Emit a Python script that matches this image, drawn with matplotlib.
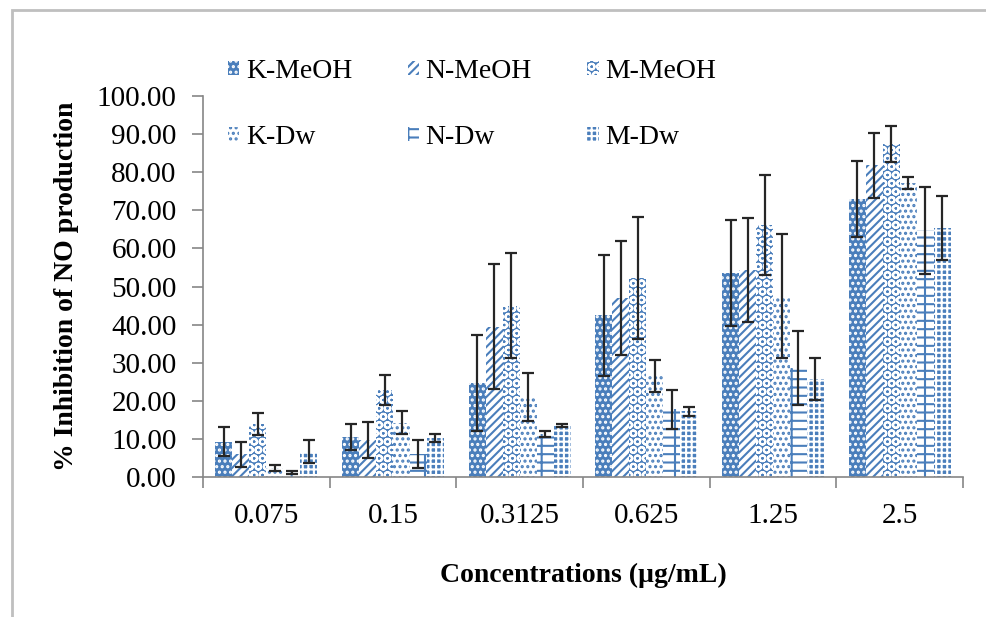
import numpy as np
import matplotlib
matplotlib.use('Agg')
import matplotlib.pyplot as plt
from matplotlib.patches import Rectangle

plt.rcParams['font.family'] = ['Liberation Serif', 'DejaVu Serif']
plt.rcParams['hatch.linewidth'] = 1.5

# data (% inhibition, mean and error)
categories = ['0.075', '0.15', '0.3125', '0.625', '1.25', '2.5']
series_names = ['K-MeOH', 'N-MeOH', 'M-MeOH', 'K-Dw', 'N-Dw', 'M-Dw']

k_meoh = [9.3, 10.6, 24.6, 42.4, 53.5, 73.0]
k_meoh_err = [3.7, 3.4, 12.6, 16.0, 13.9, 9.9]
n_meoh = [6.0, 9.8, 39.4, 47.0, 54.4, 81.8]
n_meoh_err = [3.3, 4.7, 16.4, 15.0, 13.7, 8.5]
m_meoh = [13.9, 22.8, 45.0, 52.2, 66.1, 87.4]
m_meoh_err = [2.8, 4.0, 13.8, 16.0, 13.1, 4.8]
k_dw = [2.4, 14.3, 20.9, 26.5, 47.5, 77.2]
k_dw_err = [0.7, 3.0, 6.3, 4.1, 16.2, 1.5]
n_dw = [1.2, 6.0, 11.3, 17.8, 28.6, 64.8]
n_dw_err = [0.4, 3.6, 0.8, 5.1, 9.6, 11.4]
m_dw = [6.6, 10.2, 13.6, 17.2, 25.7, 65.3]
m_dw_err = [3.0, 1.1, 0.4, 1.3, 5.5, 8.4]

values = [k_meoh, n_meoh, m_meoh, k_dw, n_dw, m_dw]
errors = [k_meoh_err, n_meoh_err, m_meoh_err, k_dw_err, n_dw_err, m_dw_err]

blue = '#4a7ebb'
# (facecolor, hatchcolor, hatch) to mimic the Excel pattern fills
styles = [
    (blue, 'white', '...'),
    ('white', blue, '////'),
    (blue, 'white', 'OO'),
    ('white', blue, '...'),
    ('white', blue, '--|'),
    (blue, 'white', '+++'),
]

fig = plt.figure(figsize=(9.86, 6.17), dpi=100)
ax = fig.add_axes([0.2059, 0.2269, 0.7708, 0.6175])

x = np.arange(len(categories))
w = 0.134
bars = []
for i in range(6):
    fc, hc, h = styles[i]
    pos = x + (i - 2.5) * w
    b = ax.bar(pos, values[i], w, color=fc, edgecolor=hc, hatch=h,
               linewidth=0, label=series_names[i], zorder=2)
    bars.append(b)
    ax.errorbar(pos, values[i], yerr=errors[i], fmt='none', ecolor='#262626',
                elinewidth=1.6, capsize=4.5, capthick=1.6, zorder=3)

ax.set_xlim(-0.5, len(categories) - 0.5)
ax.set_ylim(0, 100)
ax.set_yticks(np.arange(0, 101, 10))
ax.set_yticklabels(['%.2f' % v for v in np.arange(0, 101, 10)], fontsize=21)
ax.set_xticks(x)
ax.set_xticklabels(categories, fontsize=21)
ax.set_xticks(np.arange(-0.5, len(categories), 1), minor=True)
ax.tick_params(axis='x', which='major', length=0, pad=19)
ax.tick_params(axis='x', which='minor', length=8, color='#868686', width=1.2)
ax.tick_params(axis='y', length=8, color='#868686', width=1.2, pad=11)

for s in ['top', 'right']:
    ax.spines[s].set_visible(False)
for s in ['left', 'bottom']:
    ax.spines[s].set_color('#868686')
    ax.spines[s].set_linewidth(1.2)

ax.set_ylabel('% Inhibition of NO production', fontsize=20, fontweight='bold', labelpad=13)
ax.set_xlabel('Concentrations (\u00b5g/mL)', fontsize=20, fontweight='bold', labelpad=24)

# legend laid out 2 rows x 3 columns (row-wise order)
order = [0, 3, 1, 4, 2, 5]
fig.legend([bars[i] for i in order], [series_names[i] for i in order],
           loc='upper left', bbox_to_anchor=(0.231, 0.905), ncol=3, frameon=False,
           fontsize=20, handlelength=0.4, handleheight=0.4, handletextpad=0.25,
           columnspacing=2.0, labelspacing=1.5, borderpad=0, borderaxespad=0)

# light gray chart border
fig.patches.append(Rectangle((0.0125, -0.5), 1.5, 1.484, transform=fig.transFigure,
                             fill=False, edgecolor='#bfbfbf', linewidth=2))

fig.savefig('out.png', dpi=100)
